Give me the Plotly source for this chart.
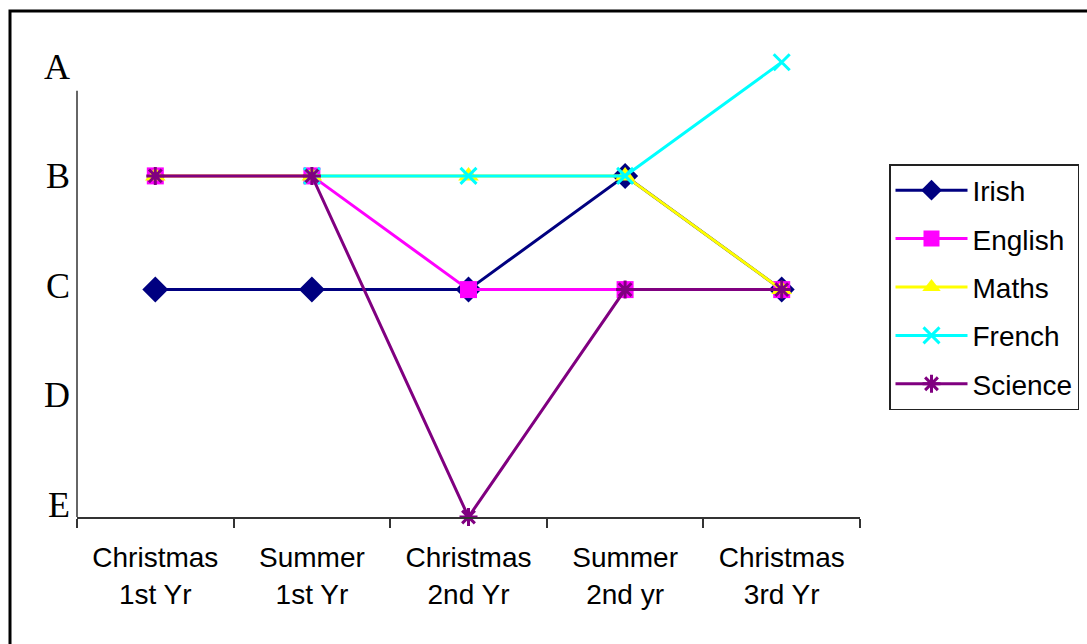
import plotly.graph_objects as go

# Exam terms and grade scale
terms = ["Christmas<br>1st Yr", "Summer<br>1st Yr", "Christmas<br>2nd Yr",
         "Summer<br>2nd yr", "Christmas<br>3rd Yr"]
grade_letters = ["E", "D", "C", "B", "A"]
grade_values = [0, 1, 2, 3, 4]

# Grades per subject (E=0 ... A=4)
irish = [2, 2, 2, 3, 2]
english = [3, 3, 2, 2, 2]
maths = [3, 3, 3, 3, 2]
french = [None, 3, 3, 3, 4]
science = [3, 3, 0, 2, 2]

series = [
    ("Irish", irish, "#000080", dict(symbol="diamond", size=20)),
    ("English", english, "#FF00FF", dict(symbol="square", size=17)),
    ("Maths", maths, "#FFFF00", dict(symbol="triangle-up", size=18)),
    ("French", french, "#00FFFF", dict(symbol="x-thin-open", size=16, line=dict(width=3))),
    ("Science", science, "#800080", dict(symbol="asterisk-open", size=15, line=dict(width=3))),
]

W, H = 1087, 644
ML, MR, MT, MB = 77, 227, 30, 127
PW, PH = W - ML - MR, H - MT - MB
px_per_grade = 113.7
y_top = PH / px_per_grade
axis_top = 3.75
# grade letters sit on a slightly compressed scale next to the axis
label_pos = [0.115 + 0.962 * g for g in grade_values]

fig = go.Figure()
for name, vals, color, marker in series:
    m = dict(marker)
    m["color"] = color
    if "line" in m:
        m["line"] = dict(m["line"], color=color)
    else:
        m["line"] = dict(width=0)
    fig.add_trace(go.Scatter(
        x=terms, y=vals, name=name, legendgroup=name, mode="lines+markers",
        line=dict(color=color, width=3), marker=m,
        connectgaps=False, cliponaxis=False,
    ))

fig.update_layout(
    width=W, height=H,
    margin=dict(l=ML, r=MR, t=MT, b=MB),
    paper_bgcolor="white", plot_bgcolor="white",
    showlegend=True,
    legend=dict(
        xref="container", yref="container",
        x=889 / W, xanchor="left",
        y=1 - 164 / H, yanchor="top",
        bgcolor="white", bordercolor="#222222", borderwidth=1.5,
        font=dict(family="Liberation Sans, Arial", size=28, color="black"),
        itemwidth=72, tracegroupgap=9,
    ),
    xaxis=dict(
        type="category", range=[-0.5, 4.5],
        showline=True, linecolor="#333333", linewidth=1.5,
        ticks="outside", tickson="boundaries", ticklen=9,
        tickcolor="#333333", tickwidth=1.5,
        showgrid=False, zeroline=False, ticklabelstandoff=15,
        tickfont=dict(family="Liberation Sans, Arial", size=28, color="black"),
    ),
    yaxis=dict(
        range=[0, y_top], showline=False, showgrid=False, zeroline=False,
        tickvals=label_pos, ticktext=grade_letters, ticks="",
        ticklabelstandoff=6,
        tickfont=dict(family="Liberation Serif, Times New Roman", size=36, color="black"),
    ),
    shapes=[
        # vertical axis line stops short of the top grade
        dict(type="line", xref="paper", yref="y", x0=0, x1=0, y0=0, y1=axis_top,
             line=dict(color="#333333", width=1.5)),
        # outer chart frame
        dict(type="rect", xref="paper", yref="paper",
             x0=(10 - ML) / PW, x1=(W + 20 - ML) / PW,
             y0=-(MB + 20) / PH, y1=(H - 11 - MB) / PH,
             line=dict(color="black", width=3)),
    ],
)

fig.write_html("out.html")
